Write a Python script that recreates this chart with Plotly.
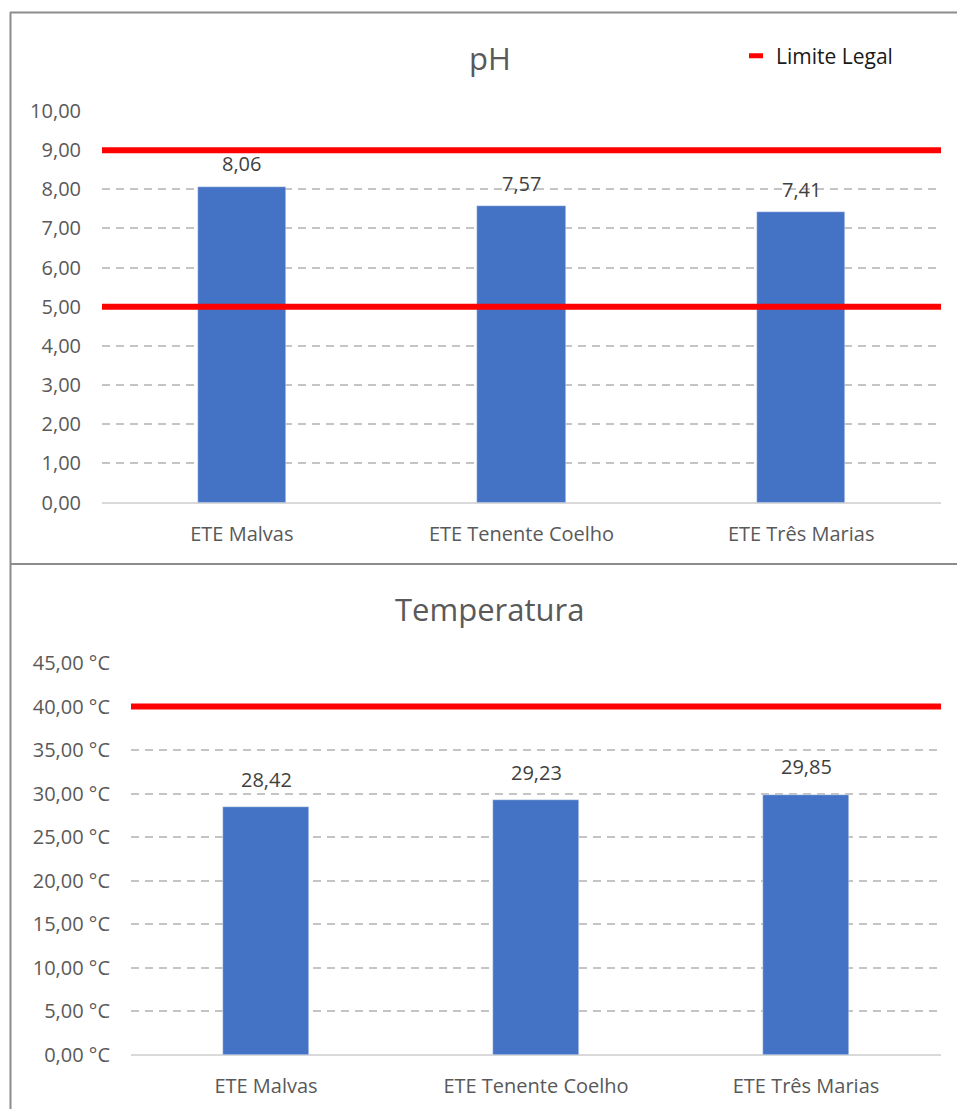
import plotly.graph_objects as go

W, H = 957, 1109

categories = ["ETE Malvas", "ETE Tenente Coelho", "ETE Três Marias"]
ph_values = [8.06, 7.57, 7.41]
ph_limits = [9.0, 5.0]
temp_values = [28.42, 29.23, 29.85]
temp_limits = [40.0]
ph_ticks = [0, 1, 2, 3, 4, 5, 6, 7, 8, 9, 10]
temp_ticks = [0, 5, 10, 15, 20, 25, 30, 35, 40, 45]

BAR = "#4472C4"
RED = "#FF0000"
GRAY_TXT = "#595959"
LABEL_TXT = "#404040"
FONT = "Open Sans"


def px(x):
    return x / W


def py(y):
    return 1 - y / H


def fmt(v):
    return f"{v:.2f}".replace(".", ",")


fig = go.Figure()

fig.add_trace(go.Bar(x=categories, y=ph_values, marker_color=BAR, width=0.315,
                     xaxis="x", yaxis="y", showlegend=False, hoverinfo="skip"))
fig.add_trace(go.Bar(x=categories, y=temp_values, marker_color=BAR, width=0.315,
                     xaxis="x2", yaxis="y2", showlegend=False, hoverinfo="skip"))
# legend entry for limit lines
fig.add_trace(go.Scatter(x=[None], y=[None], mode="markers", name="Limite Legal",
                         marker=dict(symbol="line-ew", size=10, color=RED,
                                     line=dict(color=RED, width=6)),
                         xaxis="x", yaxis="y", showlegend=True))

shapes = []
for lim in ph_limits:
    shapes.append(dict(type="line", xref="x domain", yref="y", x0=0, x1=1.0,
                       y0=lim, y1=lim, line=dict(color=RED, width=6)))
for lim in temp_limits:
    shapes.append(dict(type="line", xref="x2 domain", yref="y2", x0=0, x1=1.0,
                       y0=lim, y1=lim, line=dict(color=RED, width=6)))

# panel borders
border = dict(color="#8C8C8C", width=2)
shapes.append(dict(type="line", xref="paper", yref="paper", x0=px(10), x1=1.01,
                   y0=py(12.5), y1=py(12.5), line=border))
shapes.append(dict(type="line", xref="paper", yref="paper", x0=px(10.5), x1=px(10.5),
                   y0=py(12), y1=-0.01, line=border))
shapes.append(dict(type="line", xref="paper", yref="paper", x0=px(10), x1=1.01,
                   y0=py(564), y1=py(564), line=border))

annotations = []
annotations.append(dict(text="pH", xref="paper", yref="paper", x=px(490), y=py(58),
                        showarrow=False, font=dict(family=FONT, size=31, color=GRAY_TXT),
                        xanchor="center", yanchor="middle"))
annotations.append(dict(text="Temperatura", xref="paper", yref="paper", x=px(490), y=py(609),
                        showarrow=False, font=dict(family=FONT, size=31, color=GRAY_TXT),
                        xanchor="center", yanchor="middle"))
for c, v in zip(categories, ph_values):
    annotations.append(dict(text=fmt(v), x=c, y=v, xref="x", yref="y", showarrow=False,
                            yanchor="middle", yshift=23,
                            font=dict(family=FONT, size=20, color=LABEL_TXT)))
for c, v in zip(categories, temp_values):
    annotations.append(dict(text=fmt(v), x=c, y=v, xref="x2", yref="y2", showarrow=False,
                            yanchor="middle", yshift=28,
                            font=dict(family=FONT, size=20, color=LABEL_TXT)))

tickfont = dict(family=FONT, size=20, color=GRAY_TXT)
ycommon = dict(showgrid=True, gridcolor="#C4C4C4", gridwidth=1.5, griddash="8px,6px",
               zeroline=True, zerolinecolor="#D9D9D9", zerolinewidth=2,
               tickfont=tickfont, ticks="", showline=False, fixedrange=True,
               ticklabelstandoff=20, automargin=False, tickmode="array")
xcommon = dict(showgrid=False, zeroline=False, showline=False, ticks="",
               tickfont=tickfont, fixedrange=True, ticklabelstandoff=17,
               automargin=False)

fig.update_layout(
    width=W, height=H, autosize=False,
    margin=dict(l=0, r=0, t=0, b=0, pad=0, autoexpand=False),
    paper_bgcolor="white", plot_bgcolor="white",
    separators=",.",
    font=dict(family=FONT),
    bargap=0,
    xaxis=dict(domain=[px(102), px(941)], anchor="y", **xcommon),
    yaxis=dict(domain=[py(502.5), py(111)], anchor="x", range=[0, 10],
               tickvals=ph_ticks, ticktext=[fmt(t) for t in ph_ticks], **ycommon),
    xaxis2=dict(domain=[px(131), px(941)], anchor="y2", **xcommon),
    yaxis2=dict(domain=[py(1055), py(663)], anchor="x2", range=[0, 45],
                tickvals=temp_ticks, ticktext=[fmt(t) + " °C" for t in temp_ticks],
                **ycommon),
    shapes=shapes,
    annotations=annotations,
    legend=dict(x=px(736), y=py(56), xanchor="left", yanchor="middle",
                bgcolor="rgba(0,0,0,0)", font=dict(family=FONT, size=21, color="#1A1A1A"),
                itemwidth=30),
    showlegend=True,
)

fig.write_html("out.html")
